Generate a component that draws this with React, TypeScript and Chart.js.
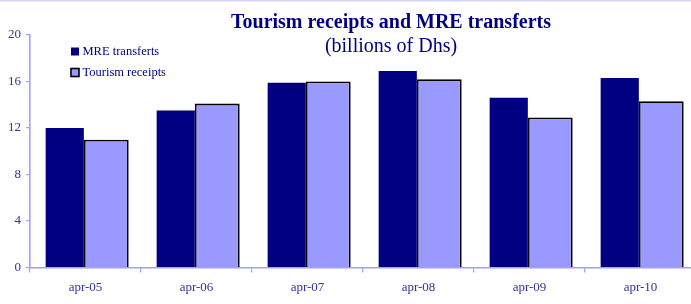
import React, { useEffect, useRef } from "react";
import { Chart, registerables } from "chart.js";

Chart.register(...registerables);

const categories = ["apr-05", "apr-06", "apr-07", "apr-08", "apr-09", "apr-10"];
const mreTransfers = [12.0, 13.5, 15.9, 16.9, 14.6, 16.3];
const tourismReceipts = [11.0, 14.1, 16.0, 16.2, 12.9, 14.3];
const yTicks = [0, 4, 8, 12, 16, 20];
const titleText = "Tourism receipts and MRE transferts";
const subtitleText = "(billions of Dhs)";
const seriesNames = ["MRE transferts", "Tourism receipts"];

const NAVY = "#000080";
const LIGHT = "#9999ff";
const AXIS = "#a0a0ff";
const TICK_TEXT = "#333399";
const SERIF = "'Liberation Serif', 'Times New Roman', serif";

const overlayPlugin = {
  id: "overlay",
  afterDraw(chart: any) {
    const ctx = chart.ctx;
    const area = chart.chartArea;
    ctx.save();
    // top frame line
    ctx.strokeStyle = "#d4d4fa";
    ctx.lineWidth = 1.5;
    ctx.beginPath();
    ctx.moveTo(0, 0.75);
    ctx.lineTo(chart.width, 0.75);
    ctx.stroke();
    // title
    const cx = area.left + 361;
    ctx.fillStyle = NAVY;
    ctx.textAlign = "center";
    ctx.textBaseline = "alphabetic";
    ctx.font = "bold 20px " + SERIF;
    ctx.fillText(titleText, cx, 28);
    ctx.font = "20px " + SERIF;
    ctx.fillText(subtitleText, cx, 52);
    // legend
    ctx.textAlign = "left";
    ctx.font = "12.5px " + SERIF;
    const lx = area.left + 41;
    const rows = [
      { y: area.top + 12.5, fill: NAVY, border: false },
      { y: area.top + 33.5, fill: LIGHT, border: true },
    ];
    rows.forEach((r, i) => {
      ctx.fillStyle = r.fill;
      ctx.fillRect(lx, r.y, 8, 8);
      if (r.border) {
        ctx.strokeStyle = "#000";
        ctx.lineWidth = 1.6;
        ctx.strokeRect(lx, r.y, 8, 8);
      }
      ctx.fillStyle = NAVY;
      ctx.fillText(seriesNames[i], lx + 11.5, r.y + 7.5);
    });
    ctx.restore();
  },
};

export default function App() {
  const ref = useRef<HTMLCanvasElement>(null);
  useEffect(() => {
    document.body.style.margin = "0";
    const chart = new Chart(ref.current!, {
      type: "bar",
      data: {
        labels: categories,
        datasets: [
          {
            label: seriesNames[0],
            data: mreTransfers,
            backgroundColor: NAVY,
            borderWidth: 0,
            categoryPercentage: 0.748,
            barPercentage: 0.92,
          },
          {
            label: seriesNames[1],
            data: tourismReceipts,
            backgroundColor: LIGHT,
            borderColor: "#000",
            borderWidth: 1.8,
            categoryPercentage: 0.748,
            barPercentage: 1.08,
          },
        ],
      },
      options: {
        responsive: false,
        animation: false,
        layout: { padding: { top: 35, right: 0, left: 0, bottom: 0 } },
        plugins: {
          legend: { display: false },
          title: { display: false },
          tooltip: { enabled: false },
        },
        scales: {
          x: {
            offset: true,
            grid: {
              offset: true,
              drawOnChartArea: false,
              drawTicks: true,
              tickLength: 5,
              color: AXIS,
              lineWidth: 1.2,
            },
            border: { color: AXIS, width: 1.6 },
            ticks: {
              color: TICK_TEXT,
              font: { family: SERIF, size: 13 },
              padding: 7,
              maxRotation: 0,
            },
            afterFit: (s: any) => {
              s.height = 36.5;
            },
          },
          y: {
            min: 0,
            max: 20,
            afterBuildTicks: (s: any) => {
              s.ticks = yTicks.map((v) => ({ value: v }));
            },
            grid: {
              drawOnChartArea: false,
              drawTicks: true,
              tickLength: 4,
              color: AXIS,
              lineWidth: 1.2,
            },
            border: { color: AXIS, width: 1.6 },
            ticks: {
              color: TICK_TEXT,
              font: { family: SERIF, size: 13 },
              padding: 5,
            },
            afterFit: (s: any) => {
              s.width = 30;
            },
          },
        },
      },
      plugins: [overlayPlugin],
    });
    return () => chart.destroy();
  }, []);
  return (
    <div style={{ width: 691, height: 304, overflow: "hidden" }}>
      <canvas ref={ref} width={696} height={304} style={{ display: "block" }} />
    </div>
  );
}
